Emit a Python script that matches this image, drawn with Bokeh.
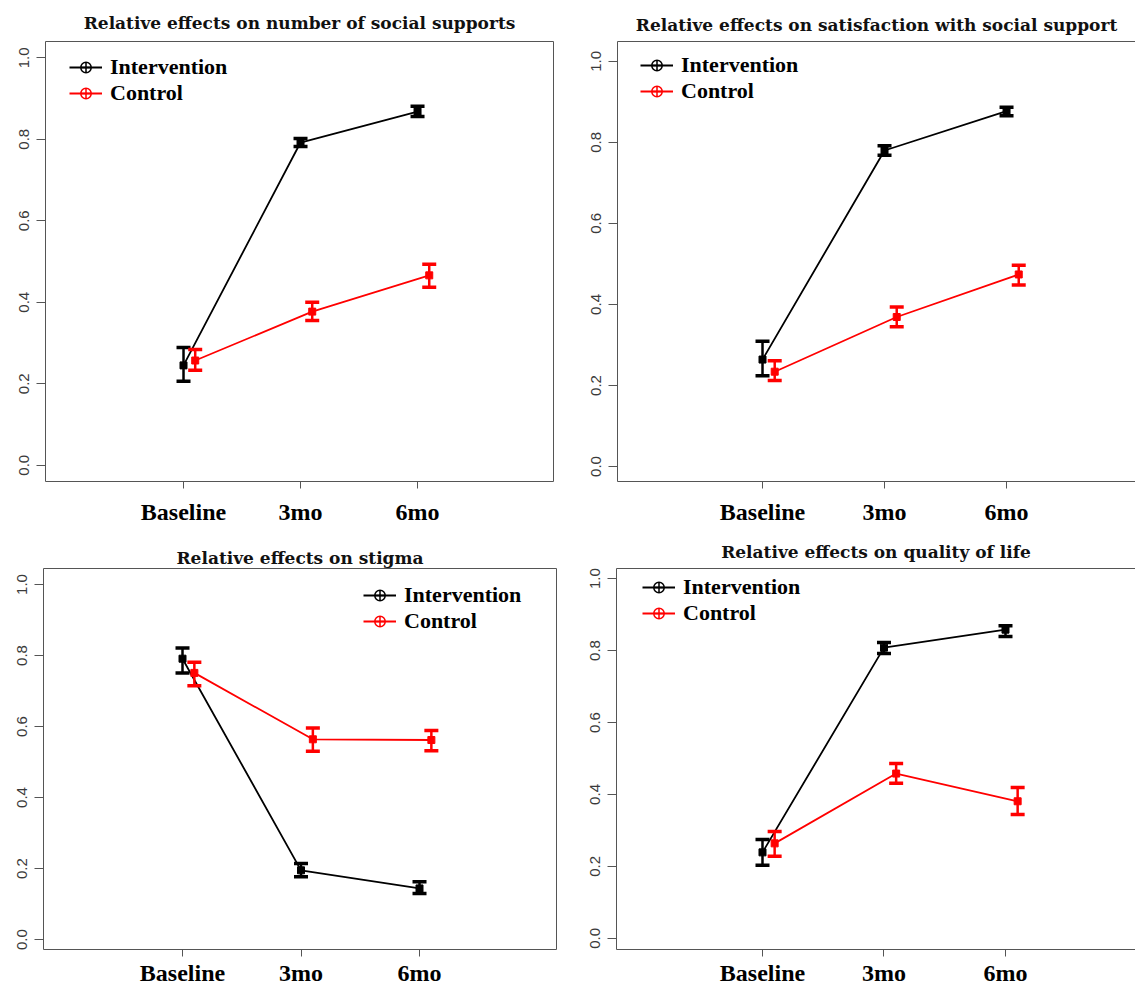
import numpy as np
from bokeh.plotting import figure
from bokeh.models import (Range1d, FixedTicker, LinearAxis, Legend, LegendItem,
                          NumeralTickFormatter)
from bokeh.layouts import column, row
from bokeh.embed import file_html
from bokeh.resources import INLINE

categories = ["Baseline", "3mo", "6mo"]
x_int = [1, 2, 3]
x_ctl = [1.1, 2.1, 3.1]
y_ticks = [0.0, 0.2, 0.4, 0.6, 0.8, 1.0]

titles = [
    "Relative effects on number of social supports",
    "Relative effects on satisfaction with social support",
    "Relative effects on stigma",
    "Relative effects on quality of life",
]

# Panel 1: number of social supports
p1_int_mean = [0.245, 0.792, 0.868]
p1_int_lo = [0.206, 0.782, 0.856]
p1_int_hi = [0.289, 0.802, 0.881]
p1_ctl_mean = [0.257, 0.377, 0.466]
p1_ctl_lo = [0.233, 0.355, 0.437]
p1_ctl_hi = [0.284, 0.400, 0.493]

# Panel 2: satisfaction with social support
p2_int_mean = [0.264, 0.780, 0.877]
p2_int_lo = [0.224, 0.768, 0.866]
p2_int_hi = [0.309, 0.792, 0.887]
p2_ctl_mean = [0.234, 0.369, 0.474]
p2_ctl_lo = [0.212, 0.345, 0.448]
p2_ctl_hi = [0.261, 0.394, 0.497]

# Panel 3: stigma
p3_int_mean = [0.791, 0.195, 0.144]
p3_int_lo = [0.751, 0.177, 0.130]
p3_int_hi = [0.821, 0.214, 0.163]
p3_ctl_mean = [0.751, 0.564, 0.562]
p3_ctl_lo = [0.715, 0.530, 0.532]
p3_ctl_hi = [0.781, 0.596, 0.589]

# Panel 4: quality of life
p4_int_mean = [0.239, 0.808, 0.858]
p4_int_lo = [0.203, 0.792, 0.839]
p4_int_hi = [0.275, 0.822, 0.869]
p4_ctl_mean = [0.264, 0.458, 0.381]
p4_ctl_lo = [0.228, 0.431, 0.344]
p4_ctl_hi = [0.297, 0.486, 0.419]

AX = "#555555"


def bare_axis(**kw):
    return LinearAxis(ticker=FixedTicker(ticks=[]), axis_line_color=AX,
                      major_tick_out=0, major_tick_in=0, minor_tick_out=0,
                      minor_tick_in=0, minor_tick_line_color=None,
                      major_label_standoff=0, major_label_text_font_size="0px", **kw)


def panel(title, series, width, height, bl, br, bt, bb, xs, xe, ys, ye,
          leg_top, leg_left, title_standoff, right_axis, x_standoff):
    fh = height - bt - bb
    p = figure(width=width, height=height,
               x_range=Range1d(xs, xe), y_range=Range1d(ys, ye),
               output_backend="svg", toolbar_location=None,
               min_border_left=bl, min_border_right=br,
               min_border_top=bt, min_border_bottom=bb,
               outline_line_color=None)
    p.xgrid.visible = False
    p.ygrid.visible = False

    xa = p.xaxis[0]
    xa.ticker = FixedTicker(ticks=[1, 2, 3])
    xa.major_label_overrides = {1: categories[0], 2: categories[1], 3: categories[2]}
    xa.minor_tick_line_color = None
    xa.major_tick_in = 0
    xa.major_tick_out = 7
    xa.major_tick_line_color = AX
    xa.axis_line_color = AX
    xa.major_label_text_font = "Liberation Serif"
    xa.major_label_text_font_style = "bold"
    xa.major_label_text_font_size = "24px"
    xa.major_label_text_color = "#000000"
    xa.major_label_standoff = x_standoff

    ya = p.yaxis[0]
    ya.ticker = FixedTicker(ticks=y_ticks)
    ya.formatter = NumeralTickFormatter(format="0.0")
    ya.minor_tick_line_color = None
    ya.major_tick_in = 0
    ya.major_tick_out = 9
    ya.major_tick_line_color = AX
    ya.axis_line_color = AX
    ya.major_label_orientation = "vertical"
    ya.major_label_text_font = "Liberation Sans"
    ya.major_label_text_font_size = "15px"
    ya.major_label_text_color = "#3a3a3a"
    ya.major_label_standoff = 7

    # top border of the box, carrying the panel title
    top = bare_axis(axis_label=title, axis_label_standoff=title_standoff,
                    axis_label_text_font="DejaVu Serif",
                    axis_label_text_font_style="bold",
                    axis_label_text_font_size="17px",
                    axis_label_text_color="#111111")
    p.add_layout(top, "above")
    if right_axis:
        p.add_layout(bare_axis(), "right")

    items = []
    for name, xv, (m, lo, hi), col in series:
        ln = p.line(xv, m, line_color=col, line_width=1.8)
        p.segment(x0=xv, y0=lo, x1=xv, y1=hi, line_color=col, line_width=2.5)
        p.scatter(xv, lo, marker="dash", size=14, line_color=col, line_width=3.5)
        p.scatter(xv, hi, marker="dash", size=14, line_color=col, line_width=3.5)
        p.scatter(xv, m, marker="square", size=7, fill_color=col, line_color=col)
        # legend-only marker (R's pch 10 in the legend), not drawn in the plot
        lm = p.scatter(x=np.array([np.nan]), y=np.array([np.nan]), marker="circle_cross",
                       size=9, line_color=col, fill_color=None, line_width=1.5)
        items.append(LegendItem(label=name, renderers=[ln, lm]))

    leg = Legend(items=items, location=(leg_left, fh - leg_top - 52),
                 border_line_color=None,
                 background_fill_alpha=0, padding=0, margin=0, spacing=0,
                 glyph_width=33, glyph_height=26, label_height=26,
                 label_standoff=8, label_text_font="Liberation Serif",
                 label_text_font_style="bold", label_text_font_size="22px",
                 label_text_color="#000000")
    p.add_layout(leg)
    return p


def ser(im, ilo, ihi, cm, clo, chi):
    return [("Intervention", x_int, (im, ilo, ihi), "#000000"),
            ("Control", x_ctl, (cm, clo, chi), "#ff0000")]


# top row frames: 41..481 ; bottom row frames: 568..949
p1 = panel(titles[0], ser(p1_int_mean, p1_int_lo, p1_int_hi, p1_ctl_mean, p1_ctl_lo, p1_ctl_hi),
           560, 528, 45, 7, 41, 47, -0.1795, 4.162, -0.04, 1.04, 13, 24, 9, True, 10)
p2 = panel(titles[1], ser(p2_int_mean, p2_int_lo, p2_int_hi, p2_ctl_mean, p2_ctl_lo, p2_ctl_hi),
           575, 528, 57, 0, 41, 47, -0.1885, 4.057, -0.037, 1.049, 11, 23, 7, False, 10)
p3 = panel(titles[2], ser(p3_int_mean, p3_int_lo, p3_int_hi, p3_ctl_mean, p3_ctl_lo, p3_ctl_hi),
           560, 460, 43, 4, 40, 39, -0.173, 4.156, -0.028, 1.045, 14, 320, 1, True, 3)
p4 = panel(titles[3], ser(p4_int_mean, p4_int_lo, p4_int_hi, p4_ctl_mean, p4_ctl_lo, p4_ctl_hi),
           575, 460, 56, 0, 40, 39, -0.2016, 4.070, -0.031, 1.028, 6, 26, 7, False, 3)

layout = column(row(p1, p2), row(p3, p4))
open("out.html", "w").write(file_html(layout, INLINE))
